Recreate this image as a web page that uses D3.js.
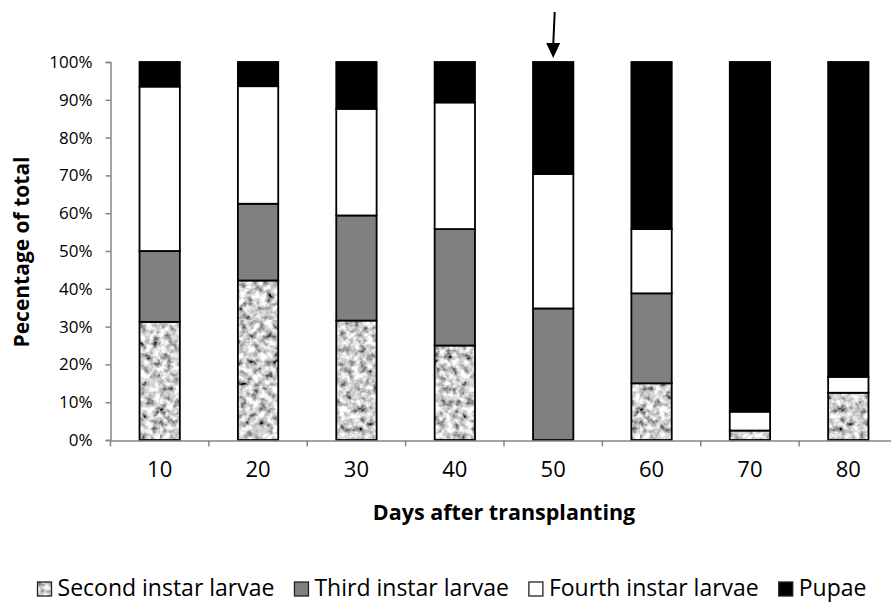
<!DOCTYPE html>
<html>
<head>
<meta charset="utf-8">
<script src="https://cdn.jsdelivr.net/npm/d3@7"></script>
<style>
  body { margin: 0; background: #fff; }
  text { font-family: "Open Sans", "Liberation Sans", sans-serif; }
</style>
</head>
<body>
<div id="cont"></div>
<script>
// data (percent of total)
var days = ["10", "20", "30", "40", "50", "60", "70", "80"];
var second = [31.25, 42.2, 31.6, 25, 0, 15, 2.5, 12.5];
var third = [18.75, 20.3, 27.8, 30.8, 34.8, 23.8, 0, 0];
var fourth = [43.5, 31.1, 28.2, 33.5, 35.6, 17, 5, 4.2];
var pupae = [6.5, 6.4, 12.4, 10.7, 29.6, 44.2, 92.5, 83.3];
var stageNames = ["Second instar larvae", "Third instar larvae", "Fourth instar larvae", "Pupae"];
var yTicks = [0, 10, 20, 30, 40, 50, 60, 70, 80, 90, 100];
var markedDay = "50";

var W = 891, H = 604;
var svg = d3.select("#cont").append("svg").attr("width", W).attr("height", H);

// speckled grey texture for the second instar
var defs = svg.append("defs");
var filt = defs.append("filter").attr("id", "speck")
  .attr("x", 0).attr("y", 0).attr("width", 1).attr("height", 1);
filt.append("feTurbulence").attr("type", "fractalNoise")
  .attr("baseFrequency", 0.15).attr("numOctaves", 3).attr("seed", 7);
filt.append("feColorMatrix").attr("type", "matrix")
  .attr("values", "1.9 0 0 0 -0.33  1.9 0 0 0 -0.33  1.9 0 0 0 -0.33  0 0 0 0 1");
var pat = defs.append("pattern").attr("id", "tex").attr("patternUnits", "userSpaceOnUse")
  .attr("width", 160).attr("height", 160);
pat.append("rect").attr("width", 160).attr("height", 160).attr("fill", "#aaa").attr("filter", "url(#speck)");

var fills = ["url(#tex)", "#808080", "#ffffff", "#000000"];

var x = d3.scaleBand().domain(days).range([110.5, 897.5]).paddingInner(0.59).paddingOuter(0.295);
var y = d3.scaleLinear().domain([0, 100]).range([440, 62]);

var rows = days.map(function(d, i) {
  return { day: d, s0: second[i], s1: third[i], s2: fourth[i], s3: pupae[i] };
});
var stack = d3.stack().keys(["s0", "s1", "s2", "s3"]).offset(d3.stackOffsetExpand);
var series = stack(rows);

// bars
var g = svg.append("g");
series.forEach(function(s, k) {
  g.selectAll(".b" + k).data(s).enter().append("rect")
    .attr("x", function(d) { return x(d.data.day); })
    .attr("width", x.bandwidth())
    .attr("y", function(d) { return y(d[1] * 100); })
    .attr("height", function(d) { return y(d[0] * 100) - y(d[1] * 100); })
    .attr("fill", fills[k])
    .attr("stroke", "#000").attr("stroke-width", 1.8)
    .style("display", function(d) { return d[1] - d[0] > 0.0001 ? null : "none"; });
});

// y axis
var yAxis = svg.append("g").attr("transform", "translate(110.5,0)")
  .call(d3.axisLeft(y).tickValues(yTicks).tickSize(5).tickPadding(13).tickFormat(function(d) { return d + "%"; }));
yAxis.select(".domain").attr("stroke", "#868686").attr("stroke-width", 1.5);
yAxis.selectAll(".tick line").attr("stroke", "#868686").attr("stroke-width", 1.5);
yAxis.selectAll(".tick text").attr("font-size", 17).attr("fill", "#000")
  .style("font-family", "'Open Sans', sans-serif");

// x axis
var xAxis = svg.append("g").attr("transform", "translate(0,440.5)")
  .call(d3.axisBottom(x).tickSize(0).tickPadding(21));
xAxis.select(".domain").attr("stroke", "#868686").attr("stroke-width", 1.5);
xAxis.selectAll(".tick text").attr("font-size", 22).attr("fill", "#000")
  .style("font-family", "'Open Sans', sans-serif");
var step = x.step();
xAxis.selectAll(".bound").data(days).enter().append("line")
  .attr("x1", function(d) { return x(d) - (step - x.bandwidth()) / 2; })
  .attr("x2", function(d) { return x(d) - (step - x.bandwidth()) / 2; })
  .attr("y1", 0).attr("y2", 6)
  .attr("stroke", "#868686").attr("stroke-width", 1.5);

// axis titles
svg.append("text").attr("x", 504).attr("y", 520).attr("text-anchor", "middle")
  .attr("font-size", 21.5).attr("font-weight", "bold").text("Days after transplanting");
svg.append("text").attr("transform", "translate(29,252) rotate(-90)").attr("text-anchor", "middle")
  .attr("font-size", 21).attr("font-weight", "bold").text("Pecentage of total");

// arrow above the marked bar
var ax = x(markedDay) + x.bandwidth() / 2;
svg.append("line").attr("x1", ax + 1.5).attr("y1", 12).attr("x2", ax).attr("y2", 46)
  .attr("stroke", "#000").attr("stroke-width", 2);
svg.append("path")
  .attr("d", "M" + (ax - 7) + ",43 L" + (ax + 7) + ",43 L" + ax + ",58 Z")
  .attr("fill", "#000");

// legend, laid out left to right and centred
var leg = svg.append("g");
var items = stageNames.map(function(name, i) {
  var it = leg.append("g");
  it.append("rect").attr("x", 0).attr("y", 582).attr("width", 14).attr("height", 14)
    .attr("fill", fills[i]).attr("stroke", "#222").attr("stroke-width", 1.3);
  var t = it.append("text").attr("x", 20).attr("y", 596).attr("font-size", 23).text(name);
  return { g: it, w: 20 + t.node().getComputedTextLength() };
});
var total = d3.sum(items, function(d) { return d.w; }) + 20 * (items.length - 1);
var cx = 452 - total / 2;
items.forEach(function(it) {
  it.g.attr("transform", "translate(" + cx + ",0)");
  cx += it.w + 20;
});
</script>
</body>
</html>
